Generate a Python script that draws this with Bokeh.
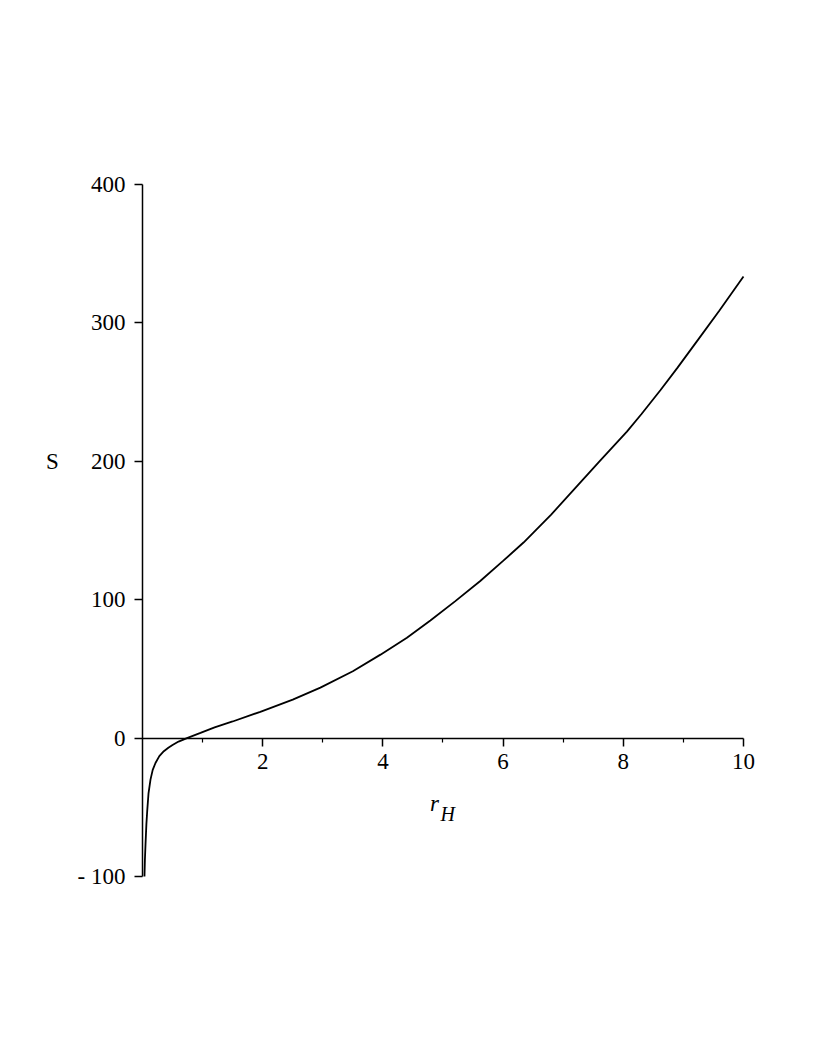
from bokeh.plotting import figure
from bokeh.models import FixedTicker, Label, Range1d
from bokeh.embed import file_html
from bokeh.resources import INLINE

# Data
r_H = [0.033, 0.04, 0.05, 0.065, 0.078, 0.1, 0.133, 0.17, 0.216, 0.28, 0.355, 0.43,
       0.5, 0.6, 0.74, 0.965, 1.2, 1.5, 1.96, 2.5, 2.96, 3.5, 3.96, 4.4, 4.79, 5.2,
       5.62, 6.0, 6.34, 6.8, 7.23, 7.6, 8.06, 8.3, 8.62, 8.9, 9.23, 9.6, 10.0]
S_vals = [-100, -88, -77, -62, -53, -40, -30, -23, -18, -13, -9.5, -7,
          -5, -2.5, 0, 3.8, 7.8, 12, 19, 27.8, 36.5, 48.3, 60.3, 72.5, 85, 98.8,
          113.5, 128, 141.3, 161.5, 182, 199.8, 221.5, 234, 251.5, 267.5, 287, 309, 333.5]

x_ticks = [2, 4, 6, 8, 10]
x_minor = [1, 3, 5, 7, 9]
y_ticks = [-100, 0, 100, 200, 300, 400]
y_tick_labels = {-100: "- 100", 0: "0", 100: "100", 200: "200", 300: "300", 400: "400"}

FONT = "'Liberation Serif', 'Times New Roman', serif"

p = figure(width=810, height=1050, output_backend="svg", toolbar_location=None,
           x_range=Range1d(-2.3294, 10.283), y_range=Range1d(-114.47, 414.47),
           min_border_left=2, min_border_top=164, min_border_right=50, min_border_bottom=154)
p.outline_line_color = None
p.grid.visible = False
p.background_fill_color = "white"
p.border_fill_color = "white"

p.line(r_H, S_vals, line_color="black", line_width=1.8)

# x axis at y = 0
xa = p.xaxis[0]
xa.fixed_location = 0
xa.bounds = (0, 10)
xa.ticker = FixedTicker(ticks=x_ticks, minor_ticks=x_minor)
xa.major_tick_in = 0
xa.major_tick_out = 8
xa.minor_tick_in = 0
xa.minor_tick_out = 4
xa.axis_line_width = 1.5
xa.major_tick_line_width = 1.5
xa.minor_tick_line_width = 1.2
xa.major_label_text_font = FONT
xa.major_label_text_font_size = "23px"
xa.major_label_text_color = "black"
xa.major_label_standoff = 8

# y axis at x = 0
ya = p.yaxis[0]
ya.fixed_location = 0
ya.bounds = (-100, 400)
ya.ticker = FixedTicker(ticks=y_ticks, minor_ticks=[])
ya.major_label_overrides = y_tick_labels
ya.major_tick_in = 0
ya.major_tick_out = 8
ya.minor_tick_out = 0
ya.minor_tick_in = 0
ya.axis_line_width = 1.5
ya.major_tick_line_width = 1.5
ya.major_label_text_font = FONT
ya.major_label_text_font_size = "23px"
ya.major_label_text_color = "black"
ya.major_label_standoff = 9

p.add_layout(Label(x=-1.5, y=200, text="S", text_font=FONT,
                   text_font_size="23px", text_align="center", text_baseline="middle",
                   text_color="black"))
p.add_layout(Label(x=4.86, y=-47, text="r", text_font=FONT, text_font_size="23px",
                   text_font_style="italic", text_align="center", text_baseline="alphabetic",
                   text_color="black"))
p.add_layout(Label(x=4.96, y=-55, text="H", text_font=FONT, text_font_size="20px",
                   text_font_style="italic", text_align="left", text_baseline="alphabetic",
                   text_color="black"))

open("out.html", "w").write(file_html(p, INLINE))
